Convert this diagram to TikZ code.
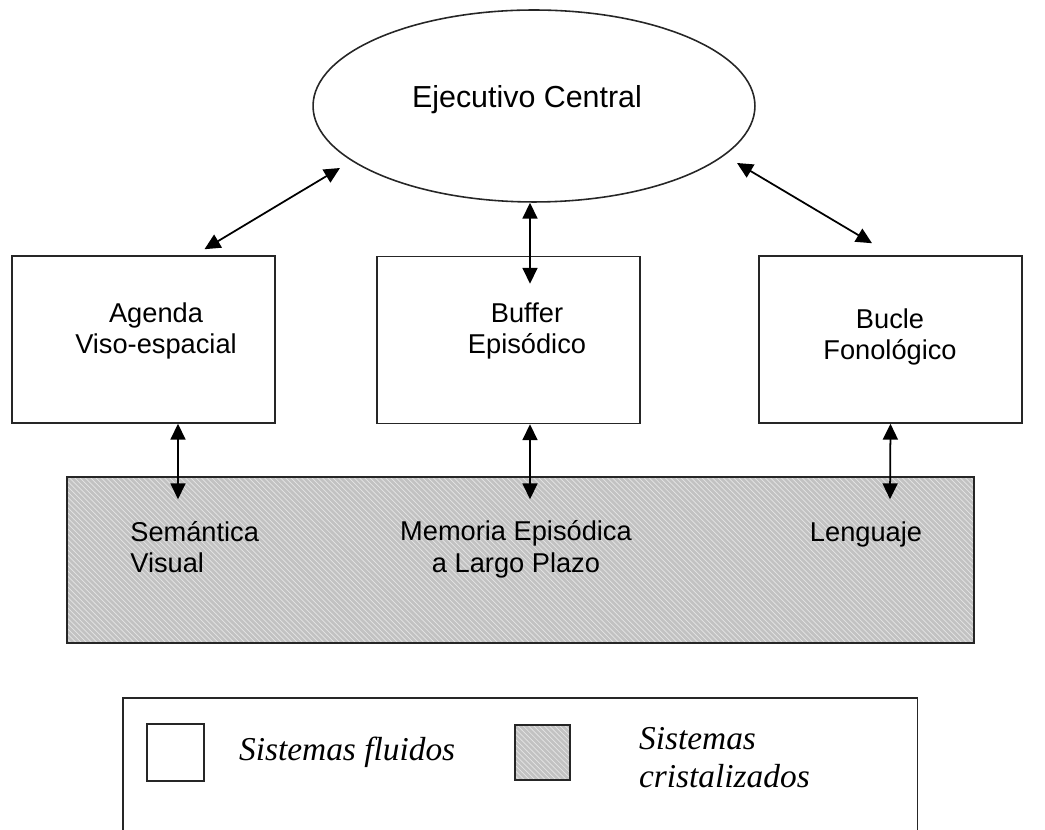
\documentclass[tikz,border=0pt]{standalone}
\usepackage{fontspec}
\setmainfont{Liberation Sans}
\newfontfamily\legendfont{Liberation Serif}
\usepackage{tikz}
\usetikzlibrary{arrows.meta, positioning, patterns, shapes.geometric}

\begin{document}
\begin{tikzpicture}[
  x=0.02cm, y=-0.02cm,
  every node/.style={inner sep=0pt},
  box/.style={draw=black!85, line width=0.9pt, minimum width=5.26cm, minimum height=3.34cm},
  hatched/.style={draw=black!85, line width=0.9pt, preaction={fill=black!24}, pattern=north west lines, pattern color=black!10},
  boxtext/.style={font=\fontsize{15.5}{18}\selectfont, align=center},
  legtext/.style={font=\legendfont\itshape\fontsize{19}{22}\selectfont, align=left},
  arrow/.style={{Triangle[length=9pt,width=8.5pt]}-{Triangle[length=9pt,width=8.5pt]}, line width=1pt}
]
\clip (0,0) rectangle (1045,830);
% central executive
\node[ellipse, draw=black!85, line width=0.9pt, minimum width=8.84cm, minimum height=3.84cm] (exec) at (534,106) {};
\node[font=\fontsize{17.3}{20}\selectfont] (exectext) at (527,100) {Ejecutivo Central};
% fluid systems
\node[box] (agenda) at (143.5,339.5) {};
\node[box] (buffer) at (508.5,340) {};
\node[box] (bucle) at (890.5,339.5) {};
\node[boxtext] (agendatext) at (156,331) {Agenda\\Viso-espacial};
\node[boxtext] (buffertext) at (527,331) {Buffer\\Episódico};
\node[boxtext] (bucletext) at (890,337) {Bucle\\Fonológico};
% crystallized systems
\node[hatched, minimum width=18.14cm, minimum height=3.32cm] (lts) at (520.5,560) {};
\node[boxtext, align=left, anchor=west] (semtext) at (130,547) {Semántica\\Visual};
\node[boxtext] (memtext) at (516,549) {Memoria Episódica\\a Largo Plazo};
\node[boxtext] (lentext) at (866,534) {Lenguaje};
% connections
\draw[arrow] ([shift={(61,-6)}]agenda.north) -- ([shift={(-194,62)}]exec.center);
\draw[arrow] ([shift={(-4,0)}]exec.south) -- ([shift={(21.5,28)}]buffer.north);
\draw[arrow] ([shift={(203,57)}]exec.center) -- ([shift={(-18.5,-12)}]bucle.north);
\draw[arrow] ([shift={(34.5,0)}]agenda.south) -- ([shift={(-342.5,23)}]lts.north);
\draw[arrow] ([shift={(21.5,0)}]buffer.south) -- ([shift={(9.5,23)}]lts.north);
\draw[arrow] (bucle.south) -- ([shift={(369.5,23)}]lts.north);
% legend
\node[draw=black!85, line width=0.9pt, minimum width=15.9cm, minimum height=4cm, anchor=north west] (legend) at (122,697) {};
\node[draw=black!85, line width=0.9pt, minimum size=1.14cm] (fluid) at (175.5,752.5) {};
\node[hatched, minimum size=1.1cm] (cryst) at (542.5,752.5) {};
\node[legtext, right=0.68cm of fluid] (fluidtext) {Sistemas fluidos};
\node[legtext, right=1.36cm of cryst, yshift=-0.1cm] (crysttext) {Sistemas\\cristalizados};
\end{tikzpicture}
\end{document}
